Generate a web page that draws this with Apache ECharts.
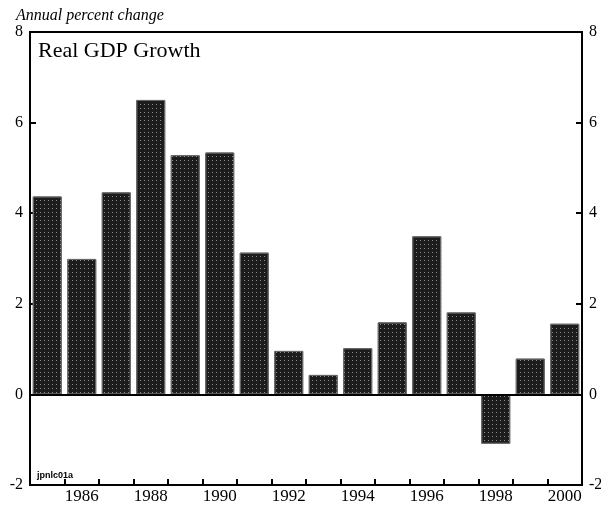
<!DOCTYPE html>
<html>
<head>
<meta charset="utf-8">
<script src="https://cdn.jsdelivr.net/npm/echarts@6/dist/echarts.min.js"></script>
<style>
  html, body { margin: 0; padding: 0; background: #fff; }
  #chart { width: 601px; height: 506px; }
</style>
</head>
<body>
<div id="chart"></div>
<script>
// annual real GDP growth, per cent
var years = ["1985", "1986", "1987", "1988", "1989", "1990", "1991", "1992",
             "1993", "1994", "1995", "1996", "1997", "1998", "1999", "2000"];
var growth = [4.37, 2.99, 4.46, 6.5, 5.28, 5.34, 3.13, 0.96,
              0.43, 1.02, 1.59, 3.49, 1.81, -1.09, 0.79, 1.56];
var yTicks = [-2, 0, 2, 4, 6, 8];

var chart = echarts.init(document.getElementById("chart"));

var serif = "Liberation Serif";
var yMin = yTicks[0], yMax = yTicks[yTicks.length - 1];

function yAxisFor(pos) {
  return {
    type: "value",
    position: pos,
    min: yMin,
    max: yMax,
    interval: 2,
    axisLine: { show: true, lineStyle: { color: "#000", width: 2 } },
    axisTick: { show: true, inside: true, length: 6, lineStyle: { color: "#000", width: 2 } },
    axisLabel: { fontFamily: serif, fontSize: 16, color: "#000", margin: 7 },
    splitLine: { show: false }
  };
}

var option = {
  animation: false,
  backgroundColor: "#fff",
  grid: {
    left: 30, right: 19, top: 32, bottom: 21,
    outerBoundsMode: "none",
    show: true, borderColor: "#000", borderWidth: 2
  },
  title: [
    {
      text: "Annual percent change",
      left: 11, top: 3,
      textStyle: { fontFamily: serif, fontStyle: "italic", fontWeight: "normal", fontSize: 16, color: "#000" }
    },
    {
      text: "Real GDP Growth",
      left: 33, top: 35,
      textStyle: { fontFamily: serif, fontWeight: "normal", fontSize: 22, color: "#000" }
    },
    {
      text: "jpnlc01a",
      left: 32, top: 466,
      textStyle: { fontFamily: "Liberation Sans", fontWeight: "bold", fontSize: 9, color: "#000" }
    }
  ],
  xAxis: {
    type: "category",
    data: years,
    position: "bottom",
    axisLine: { show: true, onZero: false, lineStyle: { color: "#000", width: 2 } },
    axisTick: { show: true, inside: true, length: 6, interval: 0, lineStyle: { color: "#000", width: 2 } },
    axisLabel: {
      interval: function (i) { return i % 2 === 1; },
      fontFamily: serif, fontSize: 17, color: "#000", margin: 3
    }
  },
  yAxis: [yAxisFor("left"), yAxisFor("right")],
  series: [
    {
      type: "bar",
      data: growth,
      barCategoryGap: "16%",
      itemStyle: {
        color: "#1c1c1c",
        borderColor: "#666",
        borderWidth: 1,
        decal: {
          symbol: "rect",
          symbolSize: 1,
          color: "rgba(255,255,255,0.5)",
          dashArrayX: [1, 3],
          dashArrayY: [1, 3],
          rotation: 0
        }
      },
      markLine: {
        silent: true,
        symbol: "none",
        label: { show: false },
        lineStyle: { color: "#000", width: 2, type: "solid" },
        data: [{ yAxis: 0 }]
      }
    }
  ]
};

chart.setOption(option);
</script>
</body>
</html>
